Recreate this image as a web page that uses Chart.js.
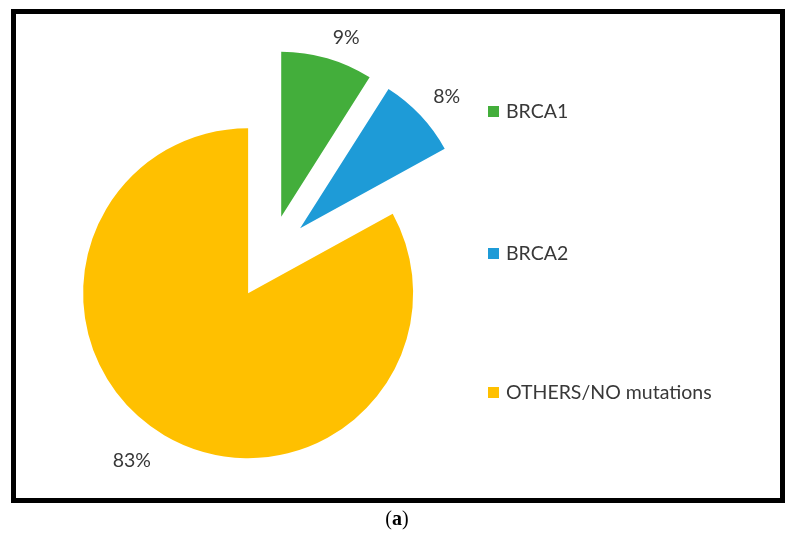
<!DOCTYPE html>
<html>
<head>
<meta charset="utf-8">
<script src="https://cdn.jsdelivr.net/npm/chart.js@4/dist/chart.umd.min.js"></script>
<style>
    body { margin: 0; background: #fff; }
    #wrap { position: relative; width: 800px; height: 538px; overflow: hidden; }
    #pie { position: absolute; left: 0; top: 0; }
    #frame {
        position: absolute; left: 11px; top: 9px; width: 774px; height: 494px;
        box-sizing: border-box; border: 5px solid #000;
    }
    #caption {
        position: absolute; left: 0; width: 794px; top: 507px; text-align: center;
        font-family: "Liberation Serif", serif; font-size: 20px; color: #000;
    }
</style>
</head>
<body>
<div id="wrap">
    <canvas id="pie" width="800" height="538"></canvas>
    <div id="frame"></div>
    <div id="caption">(<b>a</b>)</div>
</div>
<script>
const categories = ['BRCA1', 'BRCA2', 'OTHERS/NO mutations'];
const percentages = [9, 8, 83];
const sliceColors = ['#43ae3b', '#1e9bd7', '#ffc000'];

// layout / style knobs
const EXPLODE = 42;          // px each slice is pulled out
const LABEL_GAP = 32;        // px beyond the rim for % labels
const labelNudge = [[10, 10], [3, 3], [-16, -2]];
const legendRows = [111, 253, 392];
const TEXT_COLOR = '#383838';
const FONT = '19.5px Lato, "Open Sans", sans-serif';

// Pull every slice out along its own mid-angle (Excel style explosion)
const explodePlugin = {
    id: 'explode',
    afterDatasetsUpdate(chart) {
        chart.getDatasetMeta(0).data.forEach(arc => {
            const mid = (arc.startAngle + arc.endAngle) / 2;
            arc.x += Math.cos(mid) * EXPLODE;
            arc.y += Math.sin(mid) * EXPLODE;
        });
    }
};

// Percent labels outside each slice + a widely spaced legend on the right
const labelPlugin = {
    id: 'labels',
    afterDatasetsDraw(chart) {
        const ctx = chart.ctx;
        const ds = chart.data.datasets[0];
        ctx.save();
        ctx.font = FONT;
        ctx.fillStyle = TEXT_COLOR;
        ctx.textAlign = 'center';
        ctx.textBaseline = 'middle';
        chart.getDatasetMeta(0).data.forEach((arc, i) => {
            const mid = (arc.startAngle + arc.endAngle) / 2;
            const r = arc.outerRadius + LABEL_GAP;
            const x = arc.x + Math.cos(mid) * r + labelNudge[i][0];
            const y = arc.y + Math.sin(mid) * r + labelNudge[i][1];
            ctx.fillText(ds.data[i] + '%', x, y);
        });

        ctx.textAlign = 'left';
        chart.data.labels.forEach((label, i) => {
            const y = legendRows[i];
            ctx.fillStyle = ds.backgroundColor[i];
            ctx.fillRect(488, y - 5, 11, 11);
            ctx.fillStyle = TEXT_COLOR;
            ctx.fillText(label, 506, y + 1);
        });
        ctx.restore();
    }
};

new Chart(document.getElementById('pie').getContext('2d'), {
    type: 'pie',
    data: {
        labels: categories,
        datasets: [{
            data: percentages,
            backgroundColor: sliceColors,
            borderWidth: 0
        }]
    },
    options: {
        responsive: false,
        animation: false,
        radius: 165,
        layout: { padding: { left: 0, top: 0, right: 261, bottom: 24 } },
        plugins: {
            legend: { display: false },
            tooltip: { enabled: false }
        }
    },
    plugins: [explodePlugin, labelPlugin]
});
</script>
</body>
</html>
